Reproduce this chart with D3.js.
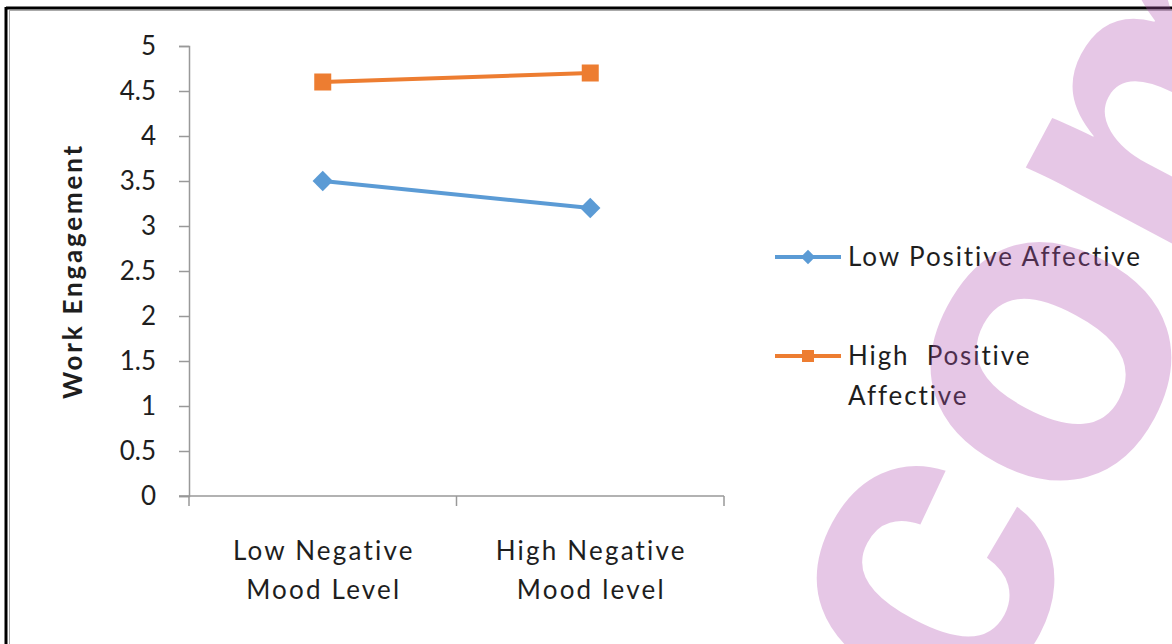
<!DOCTYPE html>
<html>
<head>
<meta charset="utf-8">
<script src="https://cdn.jsdelivr.net/npm/d3@7"></script>
<style>
  html, body { margin: 0; padding: 0; background: #fff; }
  svg { display: block; }
</style>
</head>
<body>
<script>
// 数据
let categories = [['Low Negative', 'Mood Level'], ['High Negative', 'Mood level']]
let seriesNames = [['Low Positive Affective'], ['High  Positive', 'Affective']]
let lowPositive = [3.5, 3.2]
let highPositive = [4.6, 4.7]
let yTicks = [0, 0.5, 1, 1.5, 2, 2.5, 3, 3.5, 4, 4.5, 5]

let W = 1172
let H = 644
let font = 'Lato, "Open Sans", sans-serif'
let blue = '#5b9bd5'
let orange = '#ed7d31'
let textColor = '#1e1e1e'

let svg = d3.select('body').append('svg')
  .attr('width', W)
  .attr('height', H)

// 外框
svg.append('line').attr('x1', 6).attr('x2', 6).attr('y1', 7).attr('y2', H)
  .attr('stroke', '#000').attr('stroke-width', 3)
svg.append('line').attr('x1', 6).attr('x2', W).attr('y1', 8).attr('y2', 8)
  .attr('stroke', '#000').attr('stroke-width', 3)
svg.append('line').attr('x1', 9.5).attr('x2', 9.5).attr('y1', 10).attr('y2', H)
  .attr('stroke', '#aaa').attr('stroke-width', 1)
svg.append('line').attr('x1', 9.5).attr('x2', W).attr('y1', 10.5).attr('y2', 10.5)
  .attr('stroke', '#aaa').attr('stroke-width', 1)

// 比例尺
let x = d3.scaleBand()
  .domain(d3.range(categories.length))
  .range([189, 724])
let y = d3.scaleLinear()
  .domain([0, 5])
  .range([496, 46])

// y轴
let yAxis = svg.append('g')
  .attr('transform', 'translate(189,0)')
  .call(d3.axisLeft(y).tickValues(yTicks).tickSize(10).tickPadding(23).tickFormat(d3.format('')))
yAxis.select('.domain').attr('stroke', '#999').attr('stroke-width', 1.5)
yAxis.selectAll('.tick line').attr('stroke', '#999').attr('stroke-width', 1.5)
yAxis.selectAll('.tick text')
  .attr('font-family', font)
  .attr('font-size', 26)
  .attr('fill', textColor)

// x轴
let xAxisG = svg.append('g').attr('transform', 'translate(0,496)')
xAxisG.append('line')
  .attr('x1', 179).attr('x2', x.range()[1])
  .attr('stroke', '#999').attr('stroke-width', 1.5)
xAxisG.selectAll('.cat-tick')
  .data(d3.range(categories.length + 1))
  .enter()
  .append('line')
  .attr('x1', function (d) { return d < categories.length ? x(d) : x.range()[1] })
  .attr('x2', function (d) { return d < categories.length ? x(d) : x.range()[1] })
  .attr('y1', 0).attr('y2', 10)
  .attr('stroke', '#999').attr('stroke-width', 1.5)
let catText = xAxisG.selectAll('.cat-label')
  .data(categories)
  .enter()
  .append('text')
  .attr('text-anchor', 'middle')
  .attr('font-family', font)
  .attr('font-size', 26)
  .attr('letter-spacing', 2.2)
  .attr('fill', textColor)
catText.selectAll('tspan')
  .data(function (d, i) { return d.map(function (t) { return {t: t, i: i} }) })
  .enter()
  .append('tspan')
  .attr('x', function (d) { return x(d.i) + x.bandwidth() / 2 + 1 })
  .attr('y', function (d, j) { return 64 + j * 39 })
  .text(function (d) { return d.t })

// y轴标题
svg.append('text')
  .attr('transform', 'translate(82,271) rotate(-90)')
  .attr('text-anchor', 'middle')
  .attr('font-family', font)
  .attr('font-weight', 'bold')
  .attr('font-size', 26)
  .attr('letter-spacing', 2.8)
  .attr('fill', textColor)
  .text('Work Engagement')

// 折线
let series = [
  {values: lowPositive, color: blue, shape: 'diamond'},
  {values: highPositive, color: orange, shape: 'square'}
]
let line = d3.line()
  .x(function (d, i) { return x(i) + x.bandwidth() / 2 })
  .y(function (d) { return y(d) })

function marker (g, shape, cx, cy, s, color) {
  if (shape === 'square') {
    g.append('rect')
      .attr('x', cx - s / 2).attr('y', cy - s / 2)
      .attr('width', s).attr('height', s)
      .attr('fill', color)
  } else {
    let r = s * 0.6
    g.append('path')
      .attr('d', 'M' + cx + ',' + (cy - r) + 'L' + (cx + r) + ',' + cy + 'L' + cx + ',' + (cy + r) + 'L' + (cx - r) + ',' + cy + 'Z')
      .attr('fill', color)
  }
}

series.forEach(function (s) {
  svg.append('path')
    .attr('d', line(s.values))
    .attr('fill', 'none')
    .attr('stroke', s.color)
    .attr('stroke-width', 4)
  s.values.forEach(function (v, i) {
    marker(svg, s.shape, x(i) + x.bandwidth() / 2, y(v), 17, s.color)
  })
})

// 图例
let legendY = [257, 356]
series.forEach(function (s, i) {
  let g = svg.append('g').attr('transform', 'translate(0,' + legendY[i] + ')')
  g.append('line')
    .attr('x1', 775).attr('x2', 841)
    .attr('stroke', s.color).attr('stroke-width', 4)
  marker(g, s.shape, 808, 0, 12, s.color)
  let t = g.append('text')
    .attr('font-family', font)
    .attr('font-size', 26)
    .attr('letter-spacing', 1.9)
    .attr('fill', textColor)
    .attr('xml:space', 'preserve')
    .style('white-space', 'pre')
  seriesNames[i].forEach(function (n, j) {
    t.append('tspan').attr('x', 848).attr('y', 9 + j * 40).text(n)
  })
})

// 水印
svg.append('text')
  .attr('transform', 'translate(1185,352) rotate(-62)')
  .attr('text-anchor', 'middle')
  .attr('font-family', '"Liberation Sans", Arial, sans-serif')
  .attr('font-weight', 'bold')
  .attr('font-size', 430)
  .attr('fill', '#b050b0')
  .attr('fill-opacity', 0.32)
  .text('com')
</script>
</body>
</html>
